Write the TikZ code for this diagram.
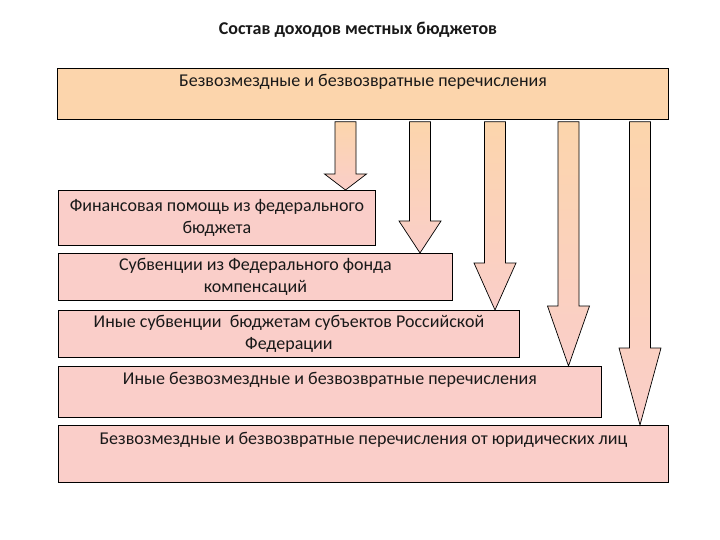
\documentclass[tikz,border=0pt]{standalone}
\usepackage{fontspec}
\setmainfont{Carlito}
\usetikzlibrary{calc}
\definecolor{peach}{RGB}{252,213,172}
\definecolor{pinkbox}{RGB}{250,206,201}
\tikzset{
  box/.style={draw=black, line width=0.8pt, fill=pinkbox, anchor=north west, inner sep=0pt},
  txt/.style={font=\fontsize{18}{22}\selectfont, align=center, inner sep=0pt, text=black!90},
  arrowfill/.style={draw=black, line width=0.7pt, top color=peach, bottom color=pinkbox, shading angle=0}
}
\newcommand{\blkarrow}[4]{%
  \draw[arrowfill] let \p1=(#2.south -| #1), \p2=(#3.north -| #1) in
    (\x1-10.5pt,\y1-2pt) -- (\x1+10.5pt,\y1-2pt) -- (\x1+10.5pt,\y2+#4) --
    (\x1+21pt,\y2+#4) -- (\x1,\y2) -- (\x1-21pt,\y2+#4) -- (\x1-10.5pt,\y2+#4) -- cycle;}
\begin{document}
\begin{tikzpicture}[x=1pt,y=-1pt]
\useasboundingbox[fill=white] (0,0) rectangle (720,540);
\node[txt, font=\bfseries\fontsize{18}{22}\selectfont, anchor=center] (title) at (358,30) {Состав доходов местных бюджетов};
\node[box, fill=peach, minimum width=611pt, minimum height=51pt] (top) at (57,68) {};
\node[txt, anchor=center] (toptext) at (363,82) {Безвозмездные и безвозвратные перечисления};
\node[box, minimum width=317pt, minimum height=55pt] (b1) at (58,190) {};
\node[txt, anchor=center] (b1text) at (b1.center) {Финансовая помощь из федерального\\бюджета};
\node[box, minimum width=394pt, minimum height=47pt] (b2) at (58,253) {};
\node[txt, anchor=center] (b2text) at (b2.center) {Субвенции из Федерального фонда\\компенсаций};
\node[box, minimum width=461pt, minimum height=47pt] (b3) at (58,310) {};
\node[txt, anchor=center] (b3text) at (b3.center) {Иные субвенции\ \ бюджетам субъектов Российской\\Федерации};
\node[box, minimum width=543pt, minimum height=51pt] (b4) at (58,366) {};
\node[txt, anchor=center] (b4text) at ($(b4.north)+(0,14)$) {Иные безвозмездные и безвозвратные перечисления};
\node[box, minimum width=610pt, minimum height=57pt] (b5) at (58,425) {};
\node[txt, anchor=center] (b5text) at ($(b5.north)+(0,15)$) {Безвозмездные и безвозвратные перечисления от юридических лиц};
\coordinate (c1) at (345.5,0);
\coordinate (c2) at (420,0);
\coordinate (c3) at (495,0);
\coordinate (c4) at (568.5,0);
\coordinate (c5) at (640,0);
\blkarrow{c1}{top}{b1}{16pt}
\blkarrow{c2}{top}{b2}{32pt}
\blkarrow{c3}{top}{b3}{47pt}
\blkarrow{c4}{top}{b4}{60pt}
\blkarrow{c5}{top}{b5}{77pt}
\end{tikzpicture}
\end{document}
